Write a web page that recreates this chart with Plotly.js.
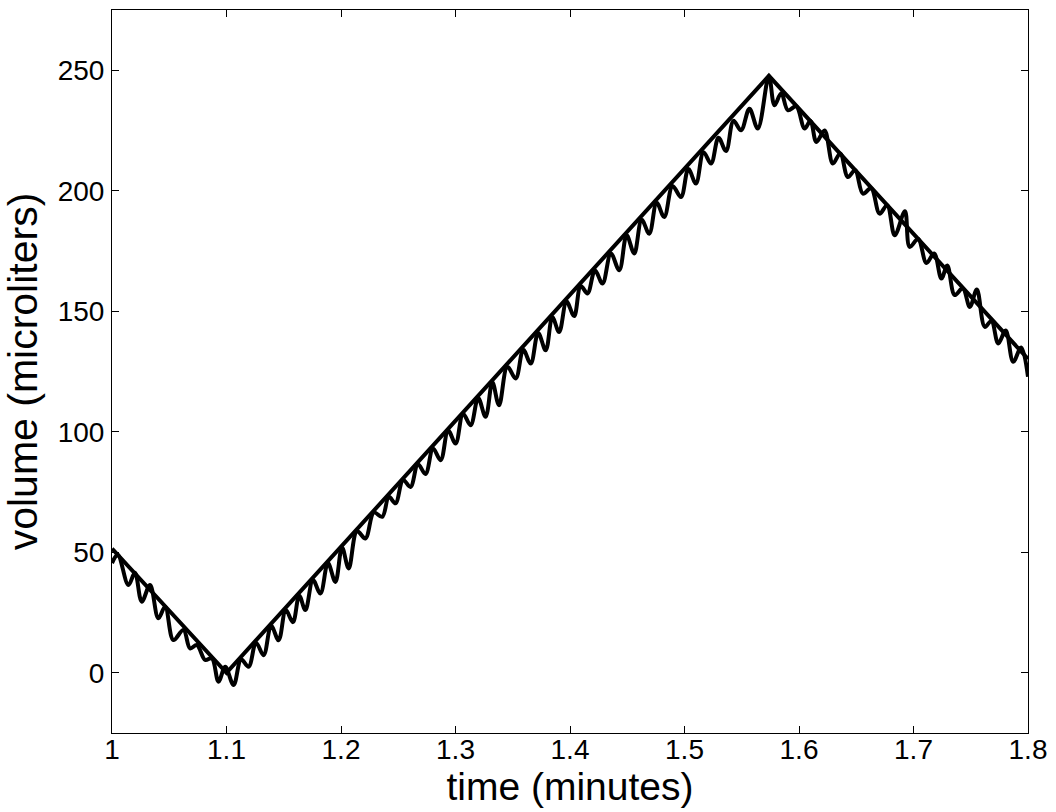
<!DOCTYPE html>
<html>
<head>
<meta charset="utf-8">
<script src="https://cdn.plot.ly/plotly-3.0.1.min.js"></script>
<style>html,body{margin:0;padding:0;background:#fff;}#chart{width:1056px;height:812px;}</style>
</head>
<body>
<div id="chart"></div>
<script>
// Straight (target) volume profile
const lineTime = [1.0, 1.1, 1.5737, 1.8];
const lineVolume = [51.5, 0, 247.7, 130.2];

const waveTime = [
  1.0, 1.005, 1.0143, 1.020, 1.026, 1.0332, 1.0405, 1.0464, 1.0536, 1.0624,
  1.0682, 1.0741, 1.0814, 1.0872, 1.093, 1.0989, 1.1062,
  1.1128, 1.1193, 1.1258, 1.1324, 1.139, 1.1455, 1.1518, 1.158, 1.1635, 1.1689,
  1.1755, 1.182, 1.1886, 1.1951, 1.2009, 1.2067, 1.214, 1.2213, 1.2287, 1.236,
  1.2418, 1.2476, 1.2542, 1.2607, 1.2672, 1.2738, 1.2804, 1.287, 1.2936, 1.3001,
  1.3066, 1.3132, 1.3198, 1.3263, 1.3322, 1.338, 1.3453, 1.3526, 1.3592, 1.3657,
  1.3722, 1.3788, 1.3846, 1.3905, 1.397, 1.4036, 1.4094, 1.4153, 1.4218, 1.4284,
  1.4357, 1.443, 1.4495, 1.4561, 1.4626, 1.4692, 1.4757, 1.4823, 1.4896, 1.4969,
  1.5034, 1.51, 1.5166, 1.5232, 1.5297, 1.5363, 1.5428, 1.5494, 1.5567, 1.564,
  1.5737,
  1.5786, 1.5845, 1.5903, 1.5976, 1.6049, 1.61, 1.6152, 1.6223, 1.6296, 1.636,
  1.6427, 1.649, 1.6558, 1.663, 1.6704, 1.677, 1.6836, 1.6925, 1.6967, 1.704,
  1.7113, 1.718, 1.7244, 1.7295, 1.736, 1.743, 1.7492, 1.7553, 1.7623, 1.768,
  1.774, 1.7805, 1.7871, 1.794, 1.8
];
const waveVolume = [
  45.5, 49, 36.4, 41.5, 29.5, 36.4, 22.6, 27.4, 13.6, 17.7,
  10.1, 11.5, 5.3, 6.0, -3.7, 2.5, -5.1,
  5.5, 2.5, 12.5, 7.3, 19.5, 13.5, 26, 21, 32, 26,
  38.5, 32.9, 45.5, 37.7, 52, 43.3, 58.8, 55.7, 66.5, 64.7,
  73, 70.3, 80, 77.1, 86.5, 82.5, 93, 88.2, 100.5, 95.1,
  107.5, 102.7, 114, 106.2, 120.5, 111, 127, 122.1, 134, 128.3,
  141, 133.8, 147.5, 141.4, 154, 148, 160.5, 157.4, 167, 161.5,
  174, 167, 181.5, 174, 188, 182.2, 195, 189.1, 202, 197.4,
  209, 203, 216, 211.3, 222, 216.5, 229, 225.1, 234, 225.8,
  247.5,
  235.5, 240.5, 233.4, 235, 225.8, 229, 220.2, 225, 211.3, 215.5,
  205.7, 208.5, 198.8, 201, 190.5, 194, 181.5, 191.5, 176.7, 180,
  170, 174, 163.6, 169, 156.7, 159.5, 151.8, 159, 143.5, 146,
  136.6, 142, 129, 135, 122.8
];

const xTicks = [1, 1.1, 1.2, 1.3, 1.4, 1.5, 1.6, 1.7, 1.8];
const xTickText = ['1', '1.1', '1.2', '1.3', '1.4', '1.5', '1.6', '1.7', '1.8'];
const yTicks = [0, 50, 100, 150, 200, 250];
const yTickText = ['0', '50', '100', '150', '200', '250'];

const traces = [
  {
    x: waveTime, y: waveVolume, mode: 'lines', type: 'scatter',
    line: {color: '#000', width: 4, shape: 'spline', smoothing: 1},
    hoverinfo: 'skip', showlegend: false
  },
  {
    x: lineTime, y: lineVolume, mode: 'lines', type: 'scatter',
    line: {color: '#000', width: 4},
    hoverinfo: 'skip', showlegend: false
  }
];

const fontFam = 'Liberation Sans, Arial, Helvetica, sans-serif';
const layout = {
  width: 1056, height: 812,
  margin: {l: 112, r: 28, t: 10, b: 79, pad: 0},
  paper_bgcolor: '#fff', plot_bgcolor: '#fff',
  font: {family: fontFam, color: '#000', size: 28},
  showlegend: false,
  xaxis: {
    range: [1, 1.8], tickmode: 'array', tickvals: xTicks, ticktext: xTickText,
    ticks: 'inside', ticklen: 7, tickwidth: 1, tickcolor: '#000',
    showline: true, linecolor: '#000', linewidth: 1, mirror: 'ticks',
    showgrid: false, zeroline: false,
    tickfont: {family: fontFam, size: 28, color: '#000'},
    ticklabelstandoff: -9,
    title: {text: 'time (minutes)', font: {family: fontFam, size: 39, color: '#000'}, standoff: 6}
  },
  yaxis: {
    range: [-25, 275], tickmode: 'array', tickvals: yTicks, ticktext: yTickText,
    ticks: 'inside', ticklen: 7, tickwidth: 1, tickcolor: '#000',
    showline: true, linecolor: '#000', linewidth: 1, mirror: 'ticks',
    showgrid: false, zeroline: false,
    tickfont: {family: fontFam, size: 28, color: '#000'},
    ticklabelstandoff: 1,
    title: {text: 'volume (microliters)', font: {family: fontFam, size: 41, color: '#000'}}
  }
};

Plotly.newPlot('chart', traces, layout, {staticPlot: true, displayModeBar: false});
</script>
</body>
</html>
